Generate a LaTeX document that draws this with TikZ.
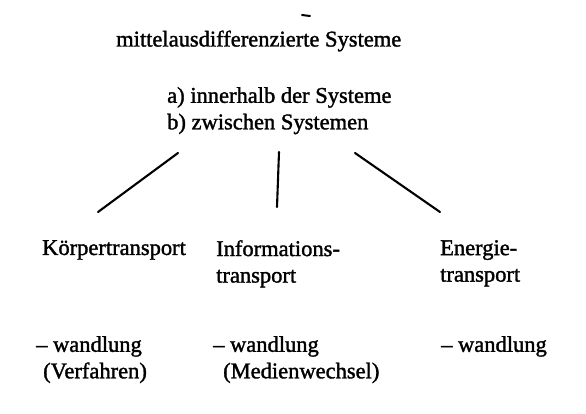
\documentclass[tikz,border=0pt]{standalone}
\usepackage{fontspec}
\setmainfont{Liberation Serif}
\newfontfamily\scanfont{Liberation Serif}[FakeBold=1.5]
\begin{document}
\begin{tikzpicture}[x=1pt,y=-1pt,
  every node/.style={font=\scanfont\fontsize{22.5}{26.5}\selectfont, inner sep=0pt},
  txt/.style={anchor=north west, align=left},
  branch/.style={line width=2.1pt, line cap=round}]
  \useasboundingbox (0,0) rectangle (586,414);

  % top mark and headings
  \draw[line width=2pt, line cap=round] (302,15) -- (310,16);
  \node[anchor=west] (sys) at (116,41) {mittelausdifferenzierte Systeme};
  \node[txt] (ab) at (167,87) {a) innerhalb der Systeme\\b) zwischen Systemen};

  % branches
  \coordinate (l1) at (178,153);  \coordinate (l2) at (98,212);
  \coordinate (m1) at (279,152);  \coordinate (m2) at (277,207);
  \coordinate (r1) at (355,153);  \coordinate (r2) at (440,212);
  \draw[branch] (l1) -- (l2);
  \draw[branch] (m1) -- (m2);
  \draw[branch] (r1) -- (r2);

  % columns
  \node[txt] (koerper) at (42,240) {Körpertransport};
  \node[txt] (info) at (216,240) {Informations-\\transport};
  \node[txt] (energie) at (440,240) {Energie-\\transport};

  \node[txt] (wk) at (36,336) {– wandlung\\\hspace*{7pt}(Verfahren)};
  \node[txt] (wi) at (213,336) {– wandlung\\\hspace*{10pt}(Medienwechsel)};
  \node[txt] (we) at (441,336) {– wandlung};

\end{tikzpicture}
\end{document}
